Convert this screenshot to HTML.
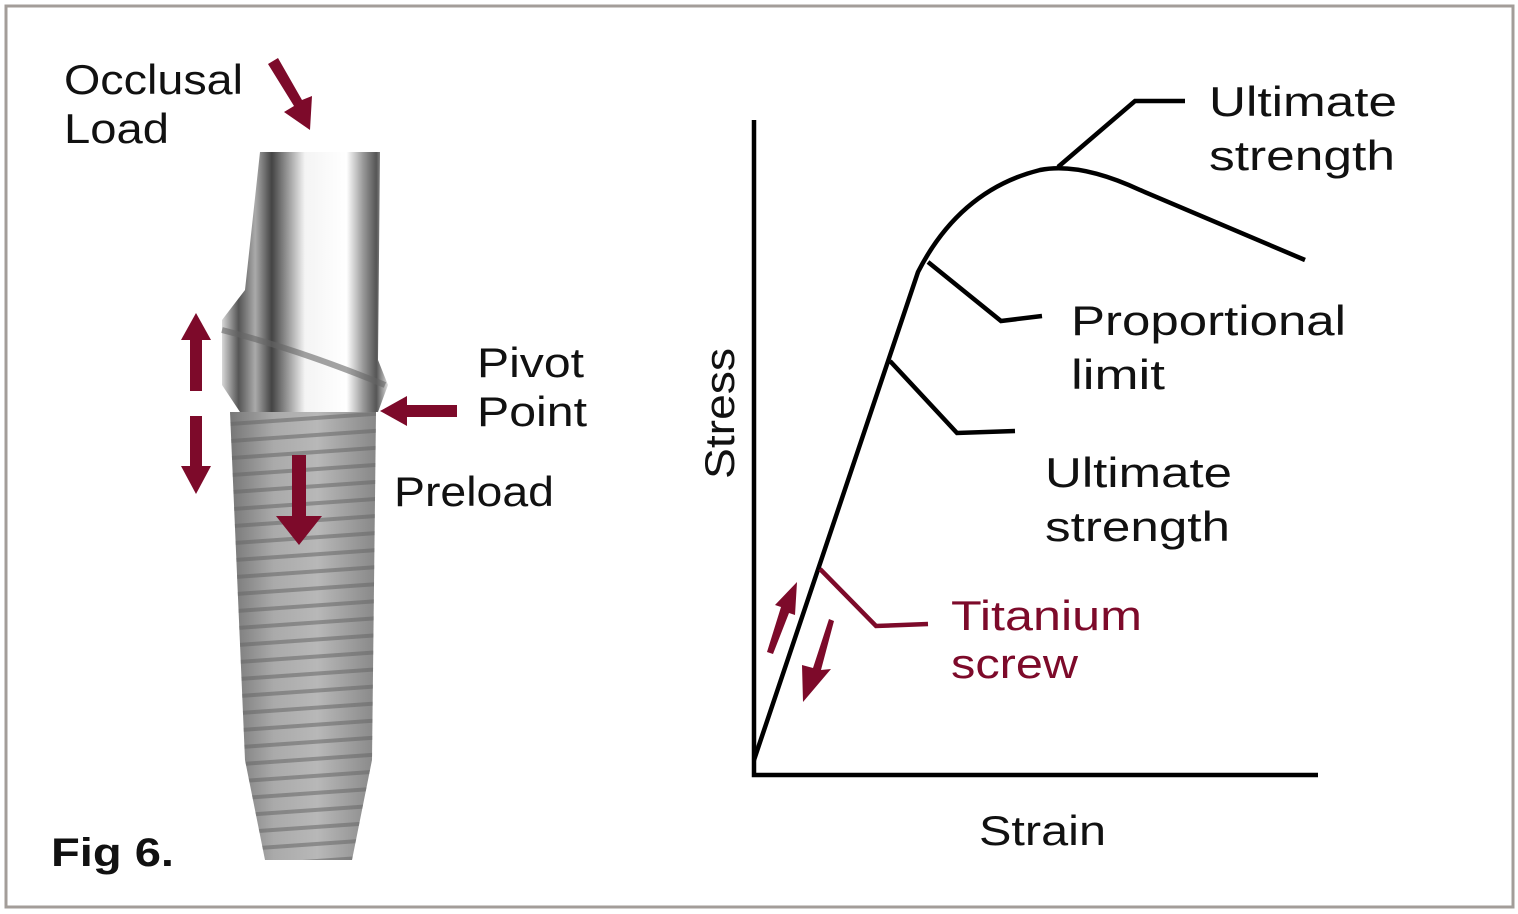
<!DOCTYPE html>
<html><head><meta charset="utf-8"><style>
html,body{margin:0;padding:0;background:#fff}
svg{display:block}
text{font-family:"Liberation Sans",sans-serif}
</style></head><body>
<svg width="1518" height="914" viewBox="0 0 1518 914" xmlns="http://www.w3.org/2000/svg">
<defs>
<linearGradient id="ab" x1="0" x2="1" y1="0" y2="0">
<stop offset="0" stop-color="#d8d8d8"/><stop offset="0.1" stop-color="#555"/><stop offset="0.2" stop-color="#aaa"/><stop offset="0.3" stop-color="#444"/><stop offset="0.5" stop-color="#f4f4f4"/><stop offset="0.75" stop-color="#fff"/><stop offset="0.85" stop-color="#999"/><stop offset="0.93" stop-color="#555"/><stop offset="1" stop-color="#ddd"/>
</linearGradient>
<linearGradient id="th" x1="0" x2="1" y1="0" y2="0">
<stop offset="0" stop-color="#777"/><stop offset="0.3" stop-color="#aaa"/><stop offset="0.6" stop-color="#b8b8b8"/><stop offset="1" stop-color="#888"/>
</linearGradient>
<pattern id="thr" width="20" height="17" patternUnits="userSpaceOnUse" patternTransform="rotate(-4)">
<rect width="20" height="17" fill="none"/><rect y="12" width="20" height="4" fill="#666" opacity="0.55"/>
</pattern>
</defs>
<rect x="6" y="6" width="1507" height="901" fill="#fff" stroke="#a39d99" stroke-width="3"/>

<!-- implant -->
<path d="M260 152 L380 152 L378 360 L388 385 L378 412 L240 412 L222 385 L222 320 L245 290 Z" fill="url(#ab)"/>
<path d="M222 330 Q300 350 385 385" stroke="#666" stroke-width="6" fill="none" opacity="0.6"/>
<path d="M230 412 L376 412 L372 760 L352 860 L265 860 L245 760 Z" fill="url(#th)"/>
<path d="M230 412 L376 412 L372 760 L352 860 L265 860 L245 760 Z" fill="url(#thr)"/>

<!-- maroon arrows left -->
<g fill="#7d0a2a" stroke="none">
<path d="M268 64 L278 58 L302 100 L312 96 L310 130 L284 112 L294 106 Z"/>
<rect x="190" y="338" width="12" height="53"/><path d="M181 340 L196 313 L211 340 Z"/>
<rect x="190" y="416" width="12" height="52"/><path d="M181 466 L196 494 L211 466 Z"/>
<rect x="405" y="405" width="52" height="12"/><path d="M407 396 L380 411 L407 426 Z"/>
<rect x="292" y="455" width="14" height="65"/><path d="M276 516 L299 545 L322 516 Z"/>
</g>

<!-- graph -->
<g stroke="#000" stroke-width="4.5" fill="none" stroke-linejoin="miter">
<path d="M754 120 L754 775 L1318 775"/>
<path d="M754 760 L918 272 Q960 190 1040 170 Q1080 162 1140 190 L1305 260"/>
<path d="M1058 167 L1135 101 L1185 101"/>
<path d="M928 262 L1001 321 L1042 316"/>
<path d="M890 361 L957 433 L1015 431"/>
</g>
<path d="M820 569 L876 626 L928 624" stroke="#7d0a2a" stroke-width="4.5" fill="none"/>
<g fill="#7d0a2a">
<path d="M767 652 L773 654 L789 613 L795 615 L797 582 L775 605 L781 607 Z"/>
<path d="M829 619 L834 621 L821 670 L831 669 L803 702 L802 665 L813 668 Z"/>
</g>

<g font-size="42" fill="#111" lengthAdjust="spacingAndGlyphs">
<text x="64" y="94" textLength="179" lengthAdjust="spacingAndGlyphs">Occlusal</text>
<text x="64" y="143" textLength="105" lengthAdjust="spacingAndGlyphs">Load</text>
<text x="477" y="377" textLength="107" lengthAdjust="spacingAndGlyphs">Pivot</text>
<text x="477" y="426" textLength="110" lengthAdjust="spacingAndGlyphs">Point</text>
<text x="394" y="506" textLength="160" lengthAdjust="spacingAndGlyphs">Preload</text>
<text x="1209" y="116" textLength="188" lengthAdjust="spacingAndGlyphs">Ultimate</text>
<text x="1209" y="170" textLength="186" lengthAdjust="spacingAndGlyphs">strength</text>
<text x="1071" y="335" textLength="275" lengthAdjust="spacingAndGlyphs">Proportional</text>
<text x="1071" y="389" textLength="94" lengthAdjust="spacingAndGlyphs">limit</text>
<text x="1045" y="487" textLength="187" lengthAdjust="spacingAndGlyphs">Ultimate</text>
<text x="1045" y="541" textLength="185" lengthAdjust="spacingAndGlyphs">strength</text>
<text x="979" y="845" textLength="127" lengthAdjust="spacingAndGlyphs">Strain</text>
<text transform="translate(734,479) rotate(-90)" textLength="131" lengthAdjust="spacingAndGlyphs">Stress</text>
<text x="51" y="866" font-weight="bold" font-size="40" textLength="123" lengthAdjust="spacingAndGlyphs">Fig 6.</text>
</g>
<g font-size="42" fill="#7d0a2a">
<text x="951" y="630" textLength="191" lengthAdjust="spacingAndGlyphs">Titanium</text>
<text x="951" y="678" textLength="127" lengthAdjust="spacingAndGlyphs">screw</text>
</g>
</svg>
</body></html>
